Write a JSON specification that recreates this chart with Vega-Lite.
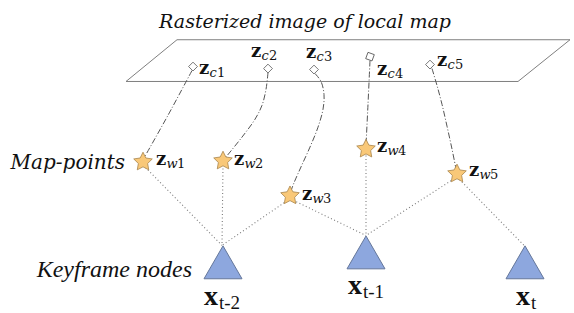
{
  "$schema": "https://vega.github.io/schema/vega-lite/v6.json",
  "width": 574,
  "height": 313,
  "autosize": {"type": "fit", "contains": "padding"},
  "padding": 0,
  "background": "white",
  "config": {"view": {"stroke": null}},
  "datasets": {
    "plane": [
      {"ord": 1, "x": 177, "y": 40},
      {"ord": 2, "x": 570, "y": 40},
      {"ord": 3, "x": 518, "y": 82},
      {"ord": 4, "x": 126, "y": 82},
      {"ord": 5, "x": 177, "y": 40}
    ],
    "curves": [
      {"seg": "c1", "ord": 1, "x": 192, "y": 71},
      {"seg": "c1", "ord": 2, "x": 168, "y": 116},
      {"seg": "c1", "ord": 3, "x": 144, "y": 159},
      {"seg": "c2", "ord": 1, "x": 268, "y": 73},
      {"seg": "c2", "ord": 2, "x": 266, "y": 90},
      {"seg": "c2", "ord": 3, "x": 262, "y": 106},
      {"seg": "c2", "ord": 4, "x": 255, "y": 120},
      {"seg": "c2", "ord": 5, "x": 242, "y": 138},
      {"seg": "c2", "ord": 6, "x": 226, "y": 158},
      {"seg": "c3", "ord": 1, "x": 315, "y": 74},
      {"seg": "c3", "ord": 2, "x": 321, "y": 82},
      {"seg": "c3", "ord": 3, "x": 324, "y": 95},
      {"seg": "c3", "ord": 4, "x": 323, "y": 110},
      {"seg": "c3", "ord": 5, "x": 318, "y": 128},
      {"seg": "c3", "ord": 6, "x": 310, "y": 148},
      {"seg": "c3", "ord": 7, "x": 301, "y": 168},
      {"seg": "c3", "ord": 8, "x": 294, "y": 184},
      {"seg": "c3", "ord": 9, "x": 291, "y": 192},
      {"seg": "c4", "ord": 1, "x": 370, "y": 61},
      {"seg": "c4", "ord": 2, "x": 368, "y": 105},
      {"seg": "c4", "ord": 3, "x": 366, "y": 146},
      {"seg": "c5", "ord": 1, "x": 432, "y": 69},
      {"seg": "c5", "ord": 2, "x": 437, "y": 86},
      {"seg": "c5", "ord": 3, "x": 442, "y": 105},
      {"seg": "c5", "ord": 4, "x": 447, "y": 127},
      {"seg": "c5", "ord": 5, "x": 452, "y": 150},
      {"seg": "c5", "ord": 6, "x": 456, "y": 170}
    ],
    "links": [
      {"seg": "d1", "ord": 1, "x": 143, "y": 166},
      {"seg": "d1", "ord": 2, "x": 222, "y": 247},
      {"seg": "d2", "ord": 1, "x": 223, "y": 166},
      {"seg": "d2", "ord": 2, "x": 222, "y": 247},
      {"seg": "d3", "ord": 1, "x": 290, "y": 200},
      {"seg": "d3", "ord": 2, "x": 222, "y": 247},
      {"seg": "d4", "ord": 1, "x": 290, "y": 200},
      {"seg": "d4", "ord": 2, "x": 366, "y": 237},
      {"seg": "d5", "ord": 1, "x": 366, "y": 153},
      {"seg": "d5", "ord": 2, "x": 366, "y": 237},
      {"seg": "d6", "ord": 1, "x": 457, "y": 178},
      {"seg": "d6", "ord": 2, "x": 366, "y": 237},
      {"seg": "d7", "ord": 1, "x": 457, "y": 178},
      {"seg": "d7", "ord": 2, "x": 524, "y": 247}
    ],
    "cells": [
      {"id": "c1", "x": 193, "y": 67, "kind": "diamond"},
      {"id": "c2", "x": 268, "y": 69, "kind": "diamond"},
      {"id": "c3", "x": 314, "y": 70, "kind": "diamond"},
      {"id": "c4", "x": 370, "y": 57, "kind": "square"},
      {"id": "c5", "x": 430, "y": 65, "kind": "diamond"}
    ],
    "mappoints": [
      {"id": "w1", "x": 143, "y": 163},
      {"id": "w2", "x": 223, "y": 162},
      {"id": "w3", "x": 290, "y": 197},
      {"id": "w4", "x": 366, "y": 150},
      {"id": "w5", "x": 457, "y": 175}
    ],
    "keyframes": [
      {"id": "t-2", "x": 223, "y": 264},
      {"id": "t-1", "x": 366, "y": 254},
      {"id": "t", "x": 525, "y": 264}
    ],
    "zlabels": [
      {"main": "z", "letter": "c", "digit": "1", "x": 199, "y": 74},
      {"main": "z", "letter": "c", "digit": "2", "x": 251, "y": 57},
      {"main": "z", "letter": "c", "digit": "3", "x": 306, "y": 58},
      {"main": "z", "letter": "c", "digit": "4", "x": 377, "y": 75},
      {"main": "z", "letter": "c", "digit": "5", "x": 437, "y": 66},
      {"main": "z", "letter": "w", "digit": "1", "x": 156, "y": 166},
      {"main": "z", "letter": "w", "digit": "2", "x": 234, "y": 166},
      {"main": "z", "letter": "w", "digit": "3", "x": 302, "y": 201},
      {"main": "z", "letter": "w", "digit": "4", "x": 377, "y": 153},
      {"main": "z", "letter": "w", "digit": "5", "x": 469, "y": 177}
    ],
    "xlabels": [
      {"main": "x", "sub": "t-2", "x": 204, "y": 307},
      {"main": "x", "sub": "t-1", "x": 348, "y": 296},
      {"main": "x", "sub": "t", "x": 516, "y": 307}
    ],
    "title": [
      {"text": "Rasterized image of local map", "x": 305, "y": 28}
    ],
    "rowlabels": [
      {"text": "Map-points", "x": 125, "y": 170}
    ],
    "times": [
      {"text": "Keyframe nodes", "x": 192, "y": 279}
    ]
  },
  "encoding": {
    "x": {"field": "x", "type": "quantitative", "scale": {"domain": [0, 574], "nice": false, "zero": false}, "axis": null},
    "y": {"field": "y", "type": "quantitative", "scale": {"domain": [0, 313], "nice": false, "zero": false, "reverse": true}, "axis": null}
  },
  "layer": [
    {
      "data": {"name": "plane"},
      "mark": {"type": "line", "stroke": "#7f7f7f", "strokeWidth": 1},
      "encoding": {"order": {"field": "ord", "type": "quantitative"}}
    },
    {
      "data": {"name": "curves"},
      "mark": {"type": "line", "interpolate": "catmull-rom", "stroke": "#555555", "strokeWidth": 1, "strokeDash": [6, 2, 1, 2]},
      "encoding": {"detail": {"field": "seg", "type": "nominal"}, "order": {"field": "ord", "type": "quantitative"}}
    },
    {
      "data": {"name": "links"},
      "mark": {"type": "line", "stroke": "#7a7a7a", "strokeWidth": 1.1, "strokeDash": [1, 2.5]},
      "encoding": {"detail": {"field": "seg", "type": "nominal"}, "order": {"field": "ord", "type": "quantitative"}}
    },
    {
      "data": {"name": "cells"},
      "transform": [{"filter": "datum.kind == 'diamond'"}],
      "mark": {"type": "point", "shape": "diamond", "filled": true, "fill": "white", "stroke": "#555555", "strokeWidth": 0.8, "opacity": 1, "size": 78}
    },
    {
      "data": {"name": "cells"},
      "transform": [{"filter": "datum.kind == 'square'"}],
      "mark": {"type": "point", "shape": "square", "angle": 20, "filled": true, "fill": "white", "stroke": "#555555", "strokeWidth": 0.8, "opacity": 1, "size": 45}
    },
    {
      "data": {"name": "mappoints"},
      "mark": {"type": "point", "shape": "M0,-1L0.294,-0.405L0.951,-0.309L0.476,0.155L0.588,0.809L0,0.5L-0.588,0.809L-0.476,0.155L-0.951,-0.309L-0.294,-0.405Z", "filled": true, "fill": "#F9C878", "stroke": "#A8844A", "strokeWidth": 0.8, "strokeJoin": "round", "opacity": 1, "size": 380}
    },
    {
      "data": {"name": "keyframes"},
      "mark": {"type": "point", "shape": "triangle-up", "filled": true, "fill": "#8DA7DE", "stroke": "#65779A", "strokeWidth": 1, "opacity": 1, "size": 1444}
    },
    {
      "data": {"name": "zlabels"},
      "mark": {"type": "text", "align": "left", "baseline": "alphabetic", "font": "DejaVu Serif", "fontWeight": "bold", "fontSize": 18, "fill": "#111111"},
      "encoding": {"text": {"field": "main"}}
    },
    {
      "data": {"name": "zlabels"},
      "mark": {"type": "text", "align": "left", "baseline": "alphabetic", "font": "DejaVu Serif", "fontStyle": "italic", "fontSize": 13, "dx": 10.5, "dy": 3, "fill": "#111111"},
      "encoding": {"text": {"field": "letter"}}
    },
    {
      "data": {"name": "zlabels"},
      "transform": [{"filter": "datum.letter == 'c'"}],
      "mark": {"type": "text", "align": "left", "baseline": "alphabetic", "font": "DejaVu Serif", "fontSize": 13, "dx": 18, "dy": 3, "fill": "#111111"},
      "encoding": {"text": {"field": "digit"}}
    },
    {
      "data": {"name": "zlabels"},
      "transform": [{"filter": "datum.letter == 'w'"}],
      "mark": {"type": "text", "align": "left", "baseline": "alphabetic", "font": "DejaVu Serif", "fontSize": 13, "dx": 21, "dy": 3, "fill": "#111111"},
      "encoding": {"text": {"field": "digit"}}
    },
    {
      "data": {"name": "xlabels"},
      "mark": {"type": "text", "align": "left", "baseline": "alphabetic", "font": "Liberation Serif", "fontWeight": "bold", "fontSize": 28, "fill": "#111111"},
      "encoding": {"text": {"field": "main"}}
    },
    {
      "data": {"name": "xlabels"},
      "mark": {"type": "text", "align": "left", "baseline": "alphabetic", "font": "Liberation Serif", "fontSize": 19, "dx": 15, "dy": 4, "fill": "#111111"},
      "encoding": {"text": {"field": "sub"}}
    },
    {
      "data": {"name": "title"},
      "mark": {"type": "text", "align": "center", "baseline": "alphabetic", "font": "DejaVu Serif", "fontStyle": "italic", "fontSize": 19, "fill": "#111111"},
      "encoding": {"text": {"field": "text"}}
    },
    {
      "data": {"name": "rowlabels"},
      "mark": {"type": "text", "align": "right", "baseline": "alphabetic", "font": "DejaVu Serif", "fontStyle": "italic", "fontSize": 20, "fill": "#111111"},
      "encoding": {"text": {"field": "text"}}
    },
    {
      "data": {"name": "times"},
      "mark": {"type": "text", "align": "right", "baseline": "alphabetic", "font": "Liberation Serif", "fontStyle": "italic", "fontSize": 24, "fill": "#111111"},
      "encoding": {"text": {"field": "text"}}
    }
  ]
}
